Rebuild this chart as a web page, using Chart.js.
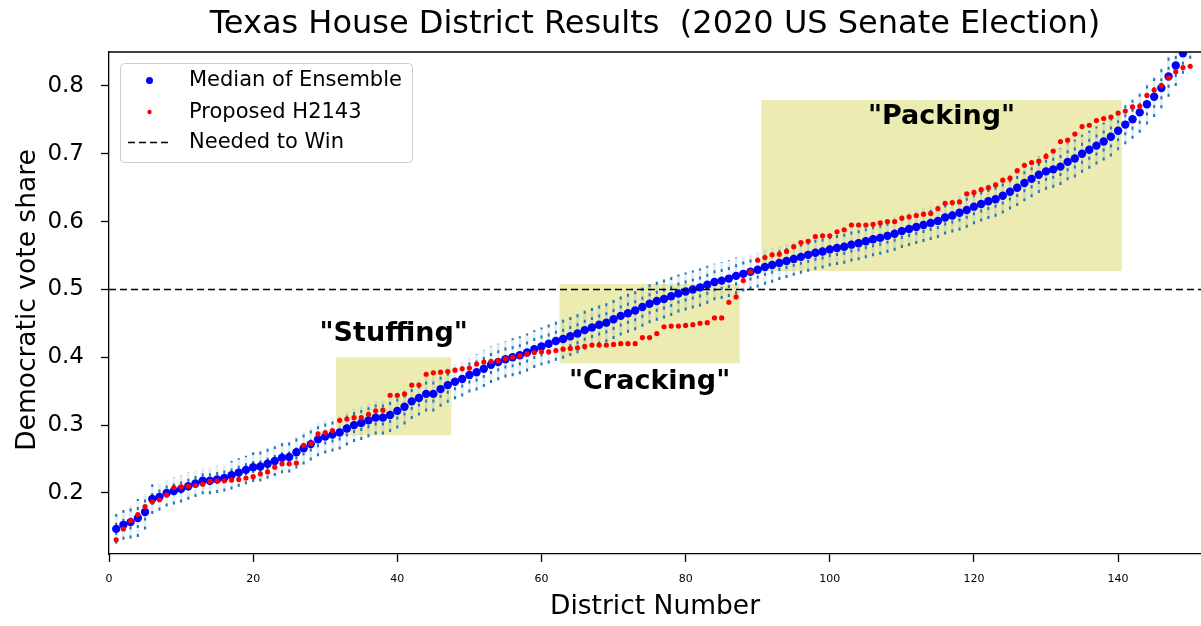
<!DOCTYPE html>
<html lang="en">
<head>
  <meta charset="UTF-8" />
  <title>Texas House District Results</title>
  <script src="https://cdn.jsdelivr.net/npm/chart.js"></script>
  <style>
    body { margin: 0; background: #fff; }
    #wrap { width: 1201px; height: 626px; }
  </style>
</head>
<body>
  <div id="wrap"><canvas id="districtChart" width="1201" height="626"></canvas></div>
  <script>
    // values
    const districts = Array.from({ length: 150 }, (_, i) => i + 1);

    const medianShare = [
      0.147, 0.153, 0.157, 0.163, 0.172, 0.191, 0.194, 0.200, 0.203, 0.206,
      0.210, 0.214, 0.218, 0.218, 0.220, 0.222, 0.226, 0.230, 0.234, 0.238,
      0.239, 0.243, 0.247, 0.252, 0.253, 0.260, 0.266, 0.272, 0.279, 0.283,
      0.286, 0.289, 0.295, 0.300, 0.303, 0.307, 0.311, 0.311, 0.315, 0.321,
      0.327, 0.335, 0.340, 0.346, 0.346, 0.353, 0.359, 0.364, 0.368, 0.374,
      0.378, 0.383, 0.389, 0.393, 0.397, 0.400, 0.403, 0.407, 0.412, 0.416,
      0.420, 0.424, 0.427, 0.431, 0.435, 0.440, 0.444, 0.448, 0.451, 0.456,
      0.461, 0.465, 0.469, 0.474, 0.479, 0.483, 0.486, 0.490, 0.494, 0.497,
      0.500, 0.503, 0.507, 0.511, 0.513, 0.516, 0.520, 0.523, 0.526, 0.529,
      0.533, 0.536, 0.539, 0.542, 0.545, 0.548, 0.551, 0.554, 0.556, 0.559,
      0.561, 0.563, 0.566, 0.568, 0.571, 0.574, 0.576, 0.579, 0.582, 0.586,
      0.589, 0.592, 0.595, 0.598, 0.601, 0.606, 0.609, 0.613, 0.617, 0.622,
      0.626, 0.630, 0.633, 0.638, 0.644, 0.650, 0.657, 0.663, 0.669, 0.674,
      0.677, 0.681, 0.688, 0.693, 0.700, 0.706, 0.712, 0.718, 0.725, 0.734,
      0.743, 0.751, 0.761, 0.773, 0.784, 0.797, 0.814, 0.830, 0.848, 0.870
    ];

    const proposedShare = [
      0.131, 0.147, 0.159, 0.168, 0.180, 0.187, 0.190, 0.197, 0.208, 0.209,
      0.210, 0.211, 0.213, 0.217, 0.218, 0.218, 0.219, 0.220, 0.222, 0.224,
      0.228, 0.231, 0.238, 0.243, 0.243, 0.244, 0.270, 0.273, 0.287, 0.289,
      0.292, 0.307, 0.309, 0.311, 0.311, 0.316, 0.321, 0.322, 0.344, 0.344,
      0.346, 0.359, 0.359, 0.375, 0.377, 0.378, 0.379, 0.381, 0.383, 0.384,
      0.390, 0.393, 0.394, 0.395, 0.398, 0.400, 0.402, 0.405, 0.407, 0.408,
      0.408, 0.410, 0.412, 0.413, 0.414, 0.416, 0.418, 0.418, 0.418, 0.419,
      0.420, 0.420, 0.420, 0.429, 0.429, 0.435, 0.445, 0.446, 0.446, 0.447,
      0.448, 0.450, 0.451, 0.458, 0.458, 0.481, 0.489, 0.513, 0.526, 0.543,
      0.547, 0.551, 0.552, 0.556, 0.563, 0.569, 0.571, 0.578, 0.579, 0.579,
      0.585, 0.588, 0.595, 0.595, 0.595, 0.596, 0.598, 0.600, 0.600, 0.605,
      0.607, 0.609, 0.611, 0.612, 0.619, 0.627, 0.628, 0.629, 0.641, 0.643,
      0.647, 0.650, 0.654, 0.661, 0.664, 0.675, 0.683, 0.687, 0.689, 0.696,
      0.704, 0.718, 0.720, 0.729, 0.740, 0.742, 0.749, 0.752, 0.754, 0.760,
      0.763, 0.769, 0.770, 0.786, 0.794, 0.801, 0.812, 0.821, 0.827, 0.829
    ];

    // half height of each dotted ensemble range
    const ensembleSpread = [
      0.022, 0.022, 0.024, 0.028, 0.026, 0.022, 0.020, 0.020, 0.020, 0.020,
      0.020, 0.020, 0.020, 0.020, 0.020, 0.020, 0.021, 0.021, 0.021, 0.022,
      0.022, 0.022, 0.022, 0.023, 0.023, 0.024, 0.024, 0.024, 0.025, 0.025,
      0.025, 0.025, 0.025, 0.025, 0.025, 0.025, 0.025, 0.025, 0.025, 0.026,
      0.026, 0.026, 0.026, 0.026, 0.026, 0.026, 0.026, 0.026, 0.026, 0.026,
      0.027, 0.027, 0.027, 0.027, 0.027, 0.028, 0.028, 0.028, 0.028, 0.028,
      0.029, 0.029, 0.029, 0.029, 0.029, 0.029, 0.029, 0.029, 0.029, 0.029,
      0.029, 0.029, 0.029, 0.029, 0.029, 0.029, 0.029, 0.029, 0.028, 0.028,
      0.028, 0.028, 0.028, 0.027, 0.027, 0.027, 0.027, 0.026, 0.026, 0.026,
      0.026, 0.026, 0.025, 0.025, 0.025, 0.025, 0.025, 0.025, 0.025, 0.025,
      0.025, 0.025, 0.025, 0.025, 0.025, 0.025, 0.025, 0.025, 0.025, 0.025,
      0.025, 0.025, 0.025, 0.025, 0.025, 0.025, 0.025, 0.026, 0.026, 0.026,
      0.026, 0.026, 0.026, 0.026, 0.026, 0.027, 0.027, 0.027, 0.027, 0.027,
      0.027, 0.027, 0.027, 0.028, 0.028, 0.028, 0.028, 0.028, 0.029, 0.029,
      0.029, 0.029, 0.030, 0.030, 0.030, 0.030, 0.030, 0.030, 0.030, 0.030
    ];

    const neededToWin = 0.5;
    const xTicks = [0, 20, 40, 60, 80, 100, 120, 140];
    const yTicks = [0.2, 0.3, 0.4, 0.5, 0.6, 0.7, 0.8];

    // highlighted regions: [x0, x1, y0, y1, label, labelX, labelY]
    const regions = [
      [31.5, 47.5, 0.285, 0.400, '"Stuffing"', 39.5, 0.434],
      [62.5, 87.5, 0.391, 0.508, '"Cracking"', 75, 0.363],
      [90.5, 140.5, 0.527, 0.779, '"Packing"', 115.5, 0.754]
    ];

    const FONT = "'DejaVu Sans', sans-serif";

    // dotted range segments, one per district, separated by gaps
    const rangeSegments = [];
    districts.forEach((d, i) => {
      rangeSegments.push({ x: d, y: medianShare[i] - ensembleSpread[i] });
      rangeSegments.push({ x: d, y: medianShare[i] + ensembleSpread[i] });
      rangeSegments.push({ x: d, y: null });
    });

    const decorPlugin = {
      id: 'decor',
      beforeDatasetsDraw(chart) {
        const { ctx, chartArea, scales: { x, y } } = chart;
        ctx.save();
        ctx.beginPath();
        ctx.rect(chartArea.left, chartArea.top, chartArea.right - chartArea.left, chartArea.bottom - chartArea.top);
        ctx.clip();
        ctx.fillStyle = 'rgba(191, 191, 0, 0.3)';
        regions.forEach(r => {
          const px0 = x.getPixelForValue(r[0]), px1 = x.getPixelForValue(r[1]);
          const py0 = y.getPixelForValue(r[2]), py1 = y.getPixelForValue(r[3]);
          ctx.fillRect(px0, py1, px1 - px0, py0 - py1);
        });
        ctx.restore();
      },
      afterDraw(chart) {
        const { ctx, chartArea, scales: { x, y } } = chart;
        ctx.save();
        // top spine (right one falls off the canvas in the reference)
        ctx.strokeStyle = '#000';
        ctx.lineWidth = 1.3;
        ctx.beginPath();
        ctx.moveTo(chartArea.left, chartArea.top);
        ctx.lineTo(chartArea.right, chartArea.top);
        ctx.stroke();

        // region labels
        ctx.fillStyle = '#000';
        ctx.font = 'bold 27px ' + FONT;
        ctx.textAlign = 'center';
        ctx.textBaseline = 'middle';
        regions.forEach(r => {
          ctx.fillText(r[4], x.getPixelForValue(r[5]), y.getPixelForValue(r[6]));
        });

        // title and axis titles
        const cx = (chartArea.left + chartArea.right) / 2;
        ctx.font = '32px ' + FONT;
        ctx.fillText('Texas House District Results  (2020 US Senate Election)', cx, 25);
        ctx.font = '26.5px ' + FONT;
        ctx.fillText('District Number', cx, 607);
        ctx.save();
        ctx.translate(28, (chartArea.top + chartArea.bottom) / 2 - 3);
        ctx.rotate(-Math.PI / 2);
        ctx.fillText('Democratic vote share', 0, 0);
        ctx.restore();

        // legend box
        const lx = chartArea.left + 11, ly = chartArea.top + 11;
        ctx.beginPath();
        ctx.roundRect(lx + 0.5, ly + 0.5, 292, 99, 4);
        ctx.fillStyle = 'rgba(255,255,255,0.8)';
        ctx.fill();
        ctx.strokeStyle = '#cccccc';
        ctx.lineWidth = 1;
        ctx.stroke();

        ctx.fillStyle = '#0000ff';
        ctx.beginPath(); ctx.arc(lx + 29.5, ly + 17.5, 3.5, 0, Math.PI * 2); ctx.fill();
        ctx.fillStyle = '#ff0000';
        ctx.beginPath(); ctx.arc(lx + 29.5, ly + 49, 2.2, 0, Math.PI * 2); ctx.fill();
        ctx.strokeStyle = '#000';
        ctx.lineWidth = 1.5;
        ctx.setLineDash([7, 4]);
        ctx.beginPath(); ctx.moveTo(lx + 8, ly + 79.5); ctx.lineTo(lx + 52, ly + 79.5); ctx.stroke();
        ctx.setLineDash([]);

        ctx.fillStyle = '#000';
        ctx.font = '21px ' + FONT;
        ctx.textAlign = 'left';
        ctx.fillText('Median of Ensemble', lx + 69, ly + 18);
        ctx.fillText('Proposed H2143', lx + 69, ly + 50);
        ctx.fillText('Needed to Win', lx + 69, ly + 80);
        ctx.restore();
      }
    };

    const ctx = document.getElementById('districtChart').getContext('2d');
    const districtChart = new Chart(ctx, {
      type: 'scatter',
      data: {
        datasets: [
          {
            label: 'Needed to Win',
            type: 'line',
            data: [{ x: 0, y: neededToWin }, { x: 152, y: neededToWin }],
            borderColor: '#000',
            borderWidth: 1.5,
            borderDash: [7, 4],
            pointRadius: 0,
            order: 0
          },
          {
            label: 'Proposed H2143',
            data: districts.map((d, i) => ({ x: d, y: proposedShare[i] })),
            backgroundColor: '#ff0000',
            borderWidth: 0,
            pointRadius: 2.6,
            order: 1
          },
          {
            label: 'Median of Ensemble',
            data: districts.map((d, i) => ({ x: d, y: medianShare[i] })),
            backgroundColor: '#0000ff',
            borderWidth: 0,
            pointRadius: 4.2,
            order: 2
          },
          {
            label: 'ensemble range',
            type: 'line',
            data: rangeSegments,
            borderColor: '#1f77b4',
            borderWidth: 2,
            borderDash: [3, 6],
            spanGaps: false,
            pointRadius: 0,
            order: 3
          },
          {
            label: 'ensemble spread',
            type: 'line',
            data: rangeSegments,
            borderColor: 'rgba(31, 119, 180, 0.12)',
            borderWidth: 3,
            spanGaps: false,
            pointRadius: 0,
            order: 4
          }
        ]
      },
      options: {
        responsive: false,
        animation: false,
        devicePixelRatio: 1,
        layout: { autoPadding: false, padding: { top: 52, right: 0, left: 0, bottom: 0 } },
        plugins: {
          legend: { display: false },
          tooltip: { enabled: false }
        },
        scales: {
          x: {
            type: 'linear',
            min: 0,
            max: 151.5,
            afterFit: s => { s.height = 72; },
            afterBuildTicks: s => { s.ticks = xTicks.map(v => ({ value: v })); },
            grid: { drawOnChartArea: false, color: '#000', tickLength: 8, tickWidth: 1.3 },
            border: { color: '#000', width: 1.3 },
            ticks: { color: '#000', font: { family: FONT, size: 11 }, padding: 11, maxRotation: 0 }
          },
          y: {
            type: 'linear',
            min: 0.11,
            max: 0.85,
            afterFit: s => { s.width = 109; },
            afterBuildTicks: s => { s.ticks = yTicks.map(v => ({ value: v })); },
            grid: { drawOnChartArea: false, color: '#000', tickLength: 8, tickWidth: 1.3 },
            border: { color: '#000', width: 1.3 },
            ticks: {
              color: '#000',
              font: { family: FONT, size: 23 },
              padding: 17,
              callback: v => v.toFixed(1)
            }
          }
        }
      },
      plugins: [decorPlugin]
    });
  </script>
</body>
</html>
